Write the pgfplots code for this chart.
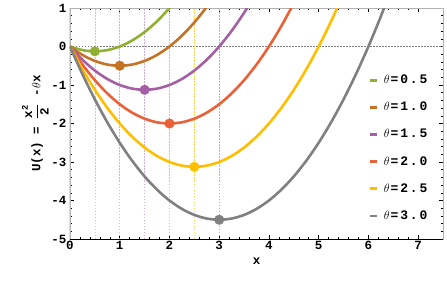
\documentclass[border=0pt]{standalone}
\usepackage{amsmath}
\usepackage{pgfplots}
\pgfplotsset{compat=1.18}
\usepackage{fontspec}
\setmainfont{Liberation Mono}
\newfontfamily\legfont[LetterSpace=14]{Liberation Mono}
\definecolor{cA}{RGB}{143,176,50}
\definecolor{cB}{RGB}{196,114,35}
\definecolor{cC}{RGB}{165,95,165}
\definecolor{cD}{RGB}{234,96,55}
\definecolor{cE}{RGB}{255,191,0}
\definecolor{cF}{RGB}{128,128,128}
\begin{document}
\begin{tikzpicture}
\begin{axis}[
  scale only axis, width=373pt, height=231pt,
  xmin=0, xmax=7.5, ymin=-5, ymax=1,
  xtick={0,1,...,7}, ytick={-5,-4,...,1},
  minor x tick num=4, minor y tick num=4,
  tick style={black, line width=0.5pt},
  major tick length=4pt, minor tick length=2pt,
  axis line style={gray!60, line width=0.6pt},
  /pgf/number format/assume math mode=true,
  ticklabel style={font=\bfseries\fontsize{12.5}{12.5}\selectfont},
  xticklabel style={yshift=1pt},
  xlabel={\bfseries x}, ylabel={\bfseries U(x) = $\dfrac{\textbf{x}^{\textbf{2}}}{\textbf{2}}$ -$\theta$x},
  label style={font=\fontsize{12.5}{12.5}\selectfont},
  xlabel style={yshift=-1pt},
  ylabel style={yshift=-4pt},
  legend style={draw=none, fill=none, at={(0.972,0.728)}, anchor=north east,
    font=\legfont\bfseries\fontsize{13}{13}\selectfont, row sep=13pt},
  legend cell align=left,
  legend image code/.code={\draw[#1, line width=2.8pt] (0pt,0pt) -- (7pt,0pt);},
  clip=true,
]
% dotted guides
\addplot[forget plot, gray, dash pattern=on 1.5pt off 1.5pt, line width=0.7pt] coordinates {(0,0) (7.5,0)};
\addplot[forget plot, cA!50, dash pattern=on 1.5pt off 1.5pt, line width=0.7pt] coordinates {(0.5,-5) (0.5,1)};
\addplot[forget plot, cB!50, dash pattern=on 1.5pt off 1.5pt, line width=0.7pt] coordinates {(1,-5) (1,1)};
\addplot[forget plot, cC!50, dash pattern=on 1.5pt off 1.5pt, line width=0.7pt] coordinates {(1.5,-5) (1.5,1)};
\addplot[forget plot, cD!50, dash pattern=on 1.5pt off 1.5pt, line width=0.7pt] coordinates {(2,-5) (2,1)};
\addplot[forget plot, cE!70, dash pattern=on 1.5pt off 1.5pt, line width=0.7pt] coordinates {(2.5,-5) (2.5,1)};
\addplot[forget plot, cF!60, dash pattern=on 1.5pt off 1.5pt, line width=0.7pt] coordinates {(3,-5) (3,1)};
% curves
\addplot[cA, line width=2.6pt, smooth] coordinates {(0,0)(0.25,-0.09375)(0.5,-0.125)(0.75,-0.09375)(1,0)(1.25,0.15625)(1.5,0.375)(1.75,0.65625)(2,1)(2.25,1.40625)};
\addlegendentry{\kern3pt$\theta$\kern1pt=0.5}
\addplot[cB, line width=2.6pt, smooth] coordinates {(0,0)(0.25,-0.21875)(0.5,-0.375)(0.75,-0.46875)(1,-0.5)(1.25,-0.46875)(1.5,-0.375)(1.75,-0.21875)(2,0)(2.25,0.28125)(2.5,0.625)(2.75,1.03125)(3,1.5)};
\addlegendentry{\kern3pt$\theta$\kern1pt=1.0}
\addplot[cC, line width=2.6pt, smooth] coordinates {(0,0)(0.25,-0.34375)(0.5,-0.625)(0.75,-0.84375)(1,-1)(1.25,-1.09375)(1.5,-1.125)(1.75,-1.09375)(2,-1)(2.25,-0.84375)(2.5,-0.625)(2.75,-0.34375)(3,0)(3.25,0.40625)(3.5,0.875)(3.75,1.40625)};
\addlegendentry{\kern3pt$\theta$\kern1pt=1.5}
\addplot[cD, line width=2.6pt, smooth] coordinates {(0,0)(0.25,-0.46875)(0.5,-0.875)(0.75,-1.21875)(1,-1.5)(1.25,-1.71875)(1.5,-1.875)(1.75,-1.96875)(2,-2)(2.25,-1.96875)(2.5,-1.875)(2.75,-1.71875)(3,-1.5)(3.25,-1.21875)(3.5,-0.875)(3.75,-0.46875)(4,0)(4.25,0.53125)(4.5,1.125)};
\addlegendentry{\kern3pt$\theta$\kern1pt=2.0}
\addplot[cE, line width=2.6pt, smooth] coordinates {(0,0)(0.25,-0.59375)(0.5,-1.125)(0.75,-1.59375)(1,-2)(1.25,-2.34375)(1.5,-2.625)(1.75,-2.84375)(2,-3)(2.25,-3.09375)(2.5,-3.125)(2.75,-3.09375)(3,-3)(3.25,-2.84375)(3.5,-2.625)(3.75,-2.34375)(4,-2)(4.25,-1.59375)(4.5,-1.125)(4.75,-0.59375)(5,0)(5.25,0.65625)(5.5,1.375)};
\addlegendentry{\kern3pt$\theta$\kern1pt=2.5}
\addplot[cF, line width=2.6pt, smooth] coordinates {(0,0)(0.25,-0.71875)(0.5,-1.375)(0.75,-1.96875)(1,-2.5)(1.25,-2.96875)(1.5,-3.375)(1.75,-3.71875)(2,-4)(2.25,-4.21875)(2.5,-4.375)(2.75,-4.46875)(3,-4.5)(3.25,-4.46875)(3.5,-4.375)(3.75,-4.21875)(4,-4)(4.25,-3.71875)(4.5,-3.375)(4.75,-2.96875)(5,-2.5)(5.25,-1.96875)(5.5,-1.375)(5.75,-0.71875)(6,0)(6.25,0.78125)(6.5,1.625)};
\addlegendentry{\kern3pt$\theta$\kern1pt=3.0}
% minima
\addplot[forget plot, only marks, mark=*, mark size=4.8pt, cA] coordinates {(0.5,-0.125)};
\addplot[forget plot, only marks, mark=*, mark size=4.8pt, cB] coordinates {(1,-0.5)};
\addplot[forget plot, only marks, mark=*, mark size=4.8pt, cC] coordinates {(1.5,-1.125)};
\addplot[forget plot, only marks, mark=*, mark size=4.8pt, cD] coordinates {(2,-2)};
\addplot[forget plot, only marks, mark=*, mark size=4.8pt, cE] coordinates {(2.5,-3.125)};
\addplot[forget plot, only marks, mark=*, mark size=4.8pt, cF] coordinates {(3,-4.5)};
\draw[black, line width=1pt] (rel axis cs:0,1) -- (rel axis cs:0,0) -- (rel axis cs:1,0);
\end{axis}
\pgfresetboundingbox
\path (current axis.south west) ++(-70pt,-42pt) rectangle ++(447pt,281pt);
\end{tikzpicture}
\end{document}
